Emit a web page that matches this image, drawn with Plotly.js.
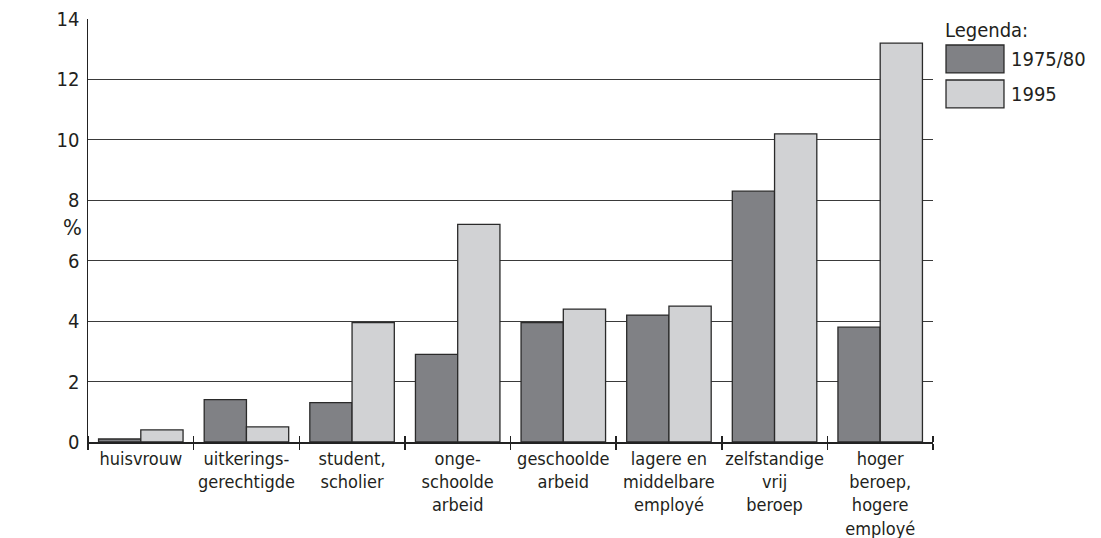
<!DOCTYPE html>
<html>
<head>
<meta charset="utf-8">
<script src="https://cdn.plot.ly/plotly-3.0.1.min.js"></script>
<style>html,body{margin:0;padding:0;background:#fff;}#chart{width:1101px;height:538px;}</style>
</head>
<body>
<div id="chart"></div>
<script>
const categories = [
  "huisvrouw",
  "uitkerings-<br>gerechtigde",
  "student,<br>scholier",
  "onge-<br>schoolde<br>arbeid",
  "geschoolde<br>arbeid",
  "lagere en<br>middelbare<br>employé",
  "zelfstandige<br>vrij<br>beroep",
  "hoger<br>beroep,<br>hogere<br>employé"
];
const series1975 = [0.1, 1.4, 1.3, 2.9, 3.95, 4.2, 8.3, 3.8];
const series1995 = [0.4, 0.5, 3.95, 7.2, 4.4, 4.5, 10.2, 13.2];
const seriesNames = ["1975/80", "1995"];
const seriesColors = ["#808185", "#d1d2d4"];
const yTickValues = [0, 2, 4, 6, 8, 10, 12, 14];
const legendTitle = "Legenda:";
const yLabel = "%";

const FONT = "DejaVu Sans Condensed, Liberation Sans, Arial, sans-serif";
const TXT = "#231f20";
const lineStyle = {color: "#2a2a2a", width: 1.3};

const traces = [
  {type: "bar", name: seriesNames[0], x: categories, y: series1975,
   marker: {color: seriesColors[0], line: lineStyle}, hoverinfo: "x+y"},
  {type: "bar", name: seriesNames[1], x: categories, y: series1995,
   marker: {color: seriesColors[1], line: lineStyle}, hoverinfo: "x+y"},
  // carrier for the upward-pointing boundary ticks (invisible)
  {type: "bar", x: categories, y: series1975, xaxis: "x2", opacity: 0,
   marker: {color: "rgba(0,0,0,0)"}, showlegend: false, hoverinfo: "skip"}
];

const shapes = [];
const annotations = [
  {xref: "paper", yref: "paper", x: 1.0118, y: 0.974, xanchor: "left", yanchor: "middle",
   text: legendTitle, showarrow: false, font: {family: FONT, size: 20, color: TXT}},
  {xref: "paper", yref: "paper", x: -0.018, y: 0.506, xanchor: "center", yanchor: "middle",
   text: yLabel, showarrow: false, font: {family: FONT, size: 22, color: TXT}}
];
const swatchTops = [0.9385, 0.8558];
const swatchH = 0.066;
seriesNames.forEach((n, i) => {
  shapes.push({type: "rect", xref: "paper", yref: "paper",
    x0: 1.0154, x1: 1.084, y0: swatchTops[i] - swatchH, y1: swatchTops[i],
    fillcolor: seriesColors[i], line: {color: "#2a2a2a", width: 1.3}});
  annotations.push({xref: "paper", yref: "paper", x: 1.090, y: swatchTops[i] - swatchH / 2,
    xanchor: "left", yanchor: "middle", text: n, showarrow: false,
    font: {family: FONT, size: 20, color: TXT}});
});

const layout = {
  width: 1101, height: 538,
  margin: {l: 88, r: 168, t: 19, b: 96, pad: 0},
  paper_bgcolor: "#fff", plot_bgcolor: "#fff",
  font: {family: FONT, size: 18, color: TXT},
  barmode: "group", bargap: 0.2, bargroupgap: 0,
  showlegend: false,
  xaxis: {type: "category", showline: true, linecolor: "#222", linewidth: 2,
    ticks: "outside", tickson: "boundaries", ticklen: 6, tickwidth: 1.5, tickcolor: "#222",
    tickangle: 0, automargin: false, ticklabelstandoff: -1,
    showgrid: false, zeroline: false, tickfont: {family: FONT, size: 18, color: TXT},
    fixedrange: true},
  xaxis2: {type: "category", overlaying: "x", anchor: "free", position: 0, side: "top",
    categoryorder: "array", categoryarray: categories, range: [-0.5, categories.length - 0.5],
    showline: false, ticks: "outside", tickson: "boundaries", ticklen: 6, tickwidth: 1.5,
    tickcolor: "#222", showticklabels: false, showgrid: false, zeroline: false, automargin: false},
  yaxis: {range: [0, 14], tickvals: yTickValues, showline: true, linecolor: "#222", linewidth: 1.5,
    showgrid: true, gridcolor: "#3a3a3a", gridwidth: 1, zeroline: false, ticks: "",
    ticklabelstandoff: 3, tickfont: {family: FONT, size: 20, color: TXT}, fixedrange: true},
  shapes: shapes,
  annotations: annotations
};

Plotly.newPlot("chart", traces, layout, {displayModeBar: false, staticPlot: true});
</script>
</body>
</html>
